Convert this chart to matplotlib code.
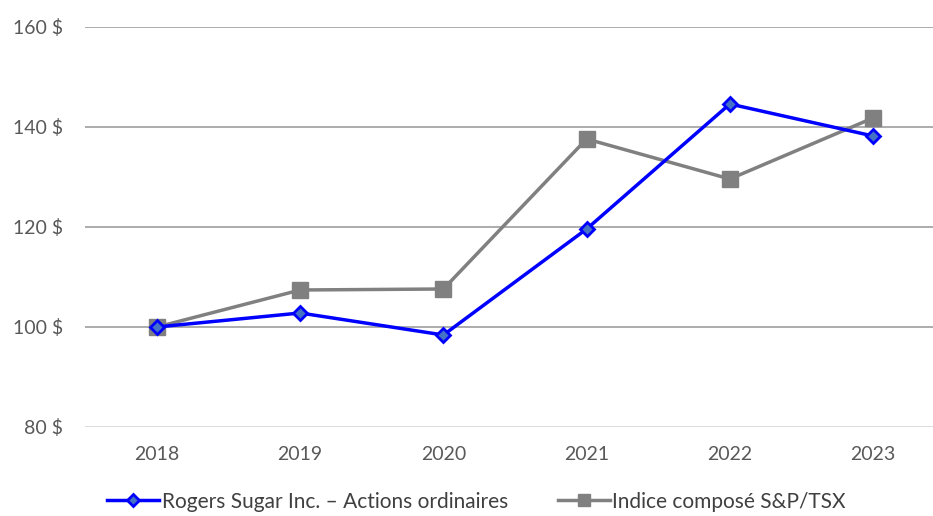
import matplotlib
matplotlib.use("Agg")
from matplotlib import pyplot as plt
from matplotlib.ticker import FuncFormatter

years = ["2018", "2019", "2020", "2021", "2022", "2023"]
rogers = [100, 102.8, 98.4, 119.6, 144.6, 138.2]
tsx = [100, 107.4, 107.6, 137.6, 129.6, 141.8]
yticks = [80, 100, 120, 140, 160]

plt.rcParams['font.family'] = ['Lato', 'DejaVu Sans']

fig = plt.figure(figsize=(9.33, 5.16), dpi=100)
ax = fig.add_axes([0.0915, 0.1725, 0.921, 0.7752])

x = range(len(years))
ax.plot(x, rogers, color="#0000FF", lw=2.5, marker="D", ms=7,
        mfc="#4472C4", mec="#0000FF", mew=2, zorder=4,
        label="Rogers Sugar Inc. \u2013 Actions ordinaires")
ax.plot(x, tsx, color="#808080", lw=2.5, marker="s", ms=11,
        mfc="#808080", mec="#808080", zorder=3,
        label="Indice composé S&P/TSX")

ax.set_xlim(-0.5, 5.5)
ax.set_ylim(80, 160)
ax.set_yticks(yticks)
ax.yaxis.set_major_formatter(FuncFormatter(lambda v, p: f"{int(v)} $"))
ax.set_xticks(list(x))
ax.set_xticklabels(years)

for v in yticks:
    c = "#D9D9D9" if v == 80 else "#A6A6A6"
    ax.axhline(v, color=c, lw=1.3, zorder=1)

for s in ax.spines.values():
    s.set_visible(False)
ax.tick_params(length=0, labelsize=14, colors="#595959")
ax.tick_params(axis="y", pad=16)
ax.tick_params(axis="x", pad=14)

leg = fig.legend(loc="lower left", bbox_to_anchor=(0.095, -0.028), ncol=2,
                 frameon=False, fontsize=15, labelcolor="#404040",
                 handlelength=2.5, handletextpad=0.1, columnspacing=2.4,
                 markerscale=0.85)

fig.savefig("out.png", dpi=100)
